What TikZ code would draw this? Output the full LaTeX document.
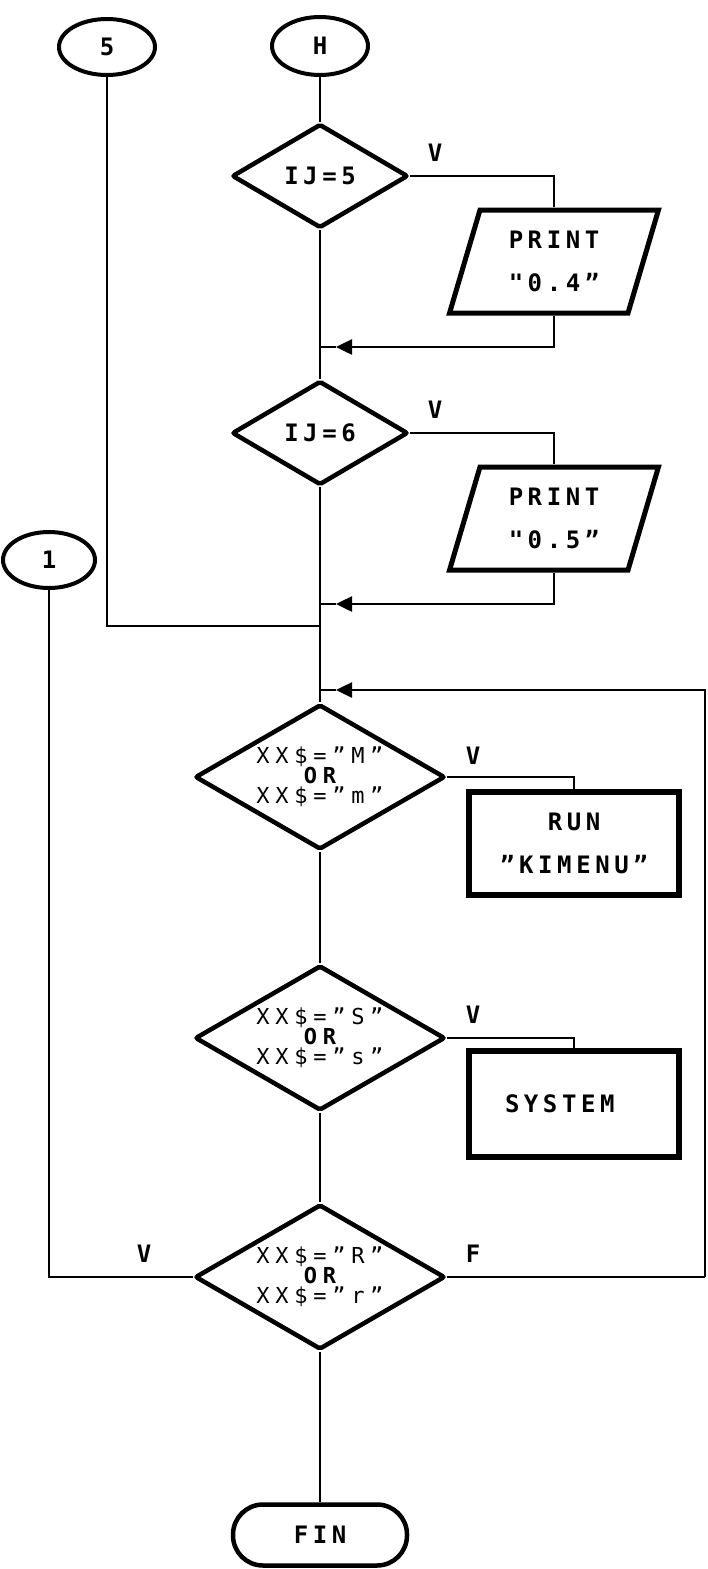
\documentclass[tikz,border=0pt]{standalone}
\usepackage{fontspec}
\newfontfamily\dotfont[LetterSpace=19,BoldFont={DejaVu Sans Mono Bold}]{DejaVu Sans Mono}
\newfontfamily\dotfontd[LetterSpace=26,BoldFont={DejaVu Sans Mono Bold}]{DejaVu Sans Mono}
\usetikzlibrary{shapes.geometric,arrows.meta}
\tikzset{
  shp/.style={draw=black, line width=4.5pt},
  ln/.style={draw=black, line width=2.5pt},
  tip/.style={ln, -{Triangle[length=16pt,width=15pt]}},
  txtf/.style={font=\dotfont\bfseries\fontsize{24}{43}\selectfont},
  conn/.style={shp, line width=4pt, ellipse, inner sep=0pt, txtf},
  decS/.style={shp, diamond, rounded corners=2pt, inner sep=0pt, minimum width=176pt, minimum height=104pt},
  decL/.style={shp, diamond, rounded corners=2pt, inner sep=0pt, minimum width=250pt, minimum height=145pt},
  para/.style={shp, line width=5pt, trapezium, trapezium left angle=73, trapezium right angle=107,
    trapezium stretches=true, minimum width=209pt, minimum height=103pt, inner sep=0pt, align=center, txtf},
  proc/.style={shp, line width=5.5pt, rectangle, minimum width=210pt, inner sep=0pt, align=center, txtf},
  dtxt/.style={inner sep=0pt, align=center, font=\dotfontd\fontsize{22}{20}\selectfont},
  lbl/.style={inner sep=0pt, font=\dotfont\bfseries\fontsize{24}{24}\selectfont},
}
\begin{document}
\begin{tikzpicture}[x=1pt,y=-1pt]
\useasboundingbox (0,0) rectangle (707,1569);
% connectors (circles)
\node[conn, minimum width=96pt, minimum height=56pt] (c5) at (107,47) {5};
\node[conn, minimum width=96pt, minimum height=58pt] (cH) at (320,46) {H};
\node[conn, minimum width=92pt, minimum height=56pt] (c1) at (49,560) {1};
% decisions
\node[decS] (d1) at (320,176) {};
\node[txtf, inner sep=0pt] (t1) at (d1.center) {IJ=5};
\node[decS] (d2) at (320,433) {};
\node[txtf, inner sep=0pt] (t2) at (d2.center) {IJ=6};
\node[decL] (dM) at (320,777) {};
\node[dtxt] (tM) at (dM.center) {XX\$=”M”\\{\bfseries OR}\\XX\$=”m”};
\node[decL] (dS) at (320,1038) {};
\node[dtxt] (tS) at (dS.center) {XX\$=”S”\\{\bfseries OR}\\XX\$=”s”};
\node[decL] (dR) at (320,1277) {};
\node[dtxt] (tR) at (dR.center) {XX\$=”R”\\{\bfseries OR}\\XX\$=”r”};
% outputs
\node[para] (p1) at (554,261.5) {PRINT\\"0.4”};
\node[para] (p2) at (554,518.5) {PRINT\\"0.5”};
% processes
\node[proc, minimum height=103pt] (run) at (574,843.5) {RUN\\”KIMENU”};
\node[proc, minimum height=106pt, text width=190pt, align=left] (sys) at (574,1104) {\hspace*{26pt}SYSTEM};
% terminal
\node[shp, rectangle, rounded corners=30pt, minimum width=174pt, minimum height=61pt, inner sep=0pt, txtf] (fin) at (320,1535) {FIN};
% labels
\node[lbl] (v1) at (435,153) {V};
\node[lbl] (v2) at (435,410) {V};
\node[lbl] (v3) at (473,756) {V};
\node[lbl] (v4) at (473,1015) {V};
\node[lbl] (v5) at (144,1254) {V};
\node[lbl] (f5) at (473,1254) {F};
% junction coordinates
\coordinate (j1) at (320,347);
\coordinate (a1) at (336,347);
\coordinate (j2) at (320,604);
\coordinate (a2) at (336,604);
\coordinate (j5) at (320,626);
\coordinate (j3) at (320,690);
\coordinate (a3) at (336,690);
\coordinate (rr) at (705,1277);
% main flow
\draw[ln] (cH.south) -- (d1.north);
\draw[ln] (d1.south) -- (d2.north);
\draw[ln] (d2.south) -- (dM.north);
\draw[ln] (dM.south) -- (dS.north);
\draw[ln] (dS.south) -- (dR.north);
\draw[ln] (dR.south) -- (fin.north);
% IJ=5 branch
\draw[ln] (d1.east) -| (p1.center |- p1.north);
\draw[tip] (p1.center |- p1.south) |- (a1);
\draw[ln] (a1) -- (j1);
% IJ=6 branch
\draw[ln] (d2.east) -| (p2.center |- p2.north);
\draw[tip] (p2.center |- p2.south) |- (a2);
\draw[ln] (a2) -- (j2);
% connector 5
\draw[ln] (c5.south) |- (j5);
% M branch
\draw[ln] (dM.east) -| (run.north);
% S branch
\draw[ln] (dS.east) -| (sys.north);
% R branch
\draw[ln] (dR.west) -| (c1.south);
\draw[ln] (dR.east) -- (rr);
\draw[tip] (rr) |- (a3);
\draw[ln] (a3) -- (j3);
\end{tikzpicture}
\end{document}
